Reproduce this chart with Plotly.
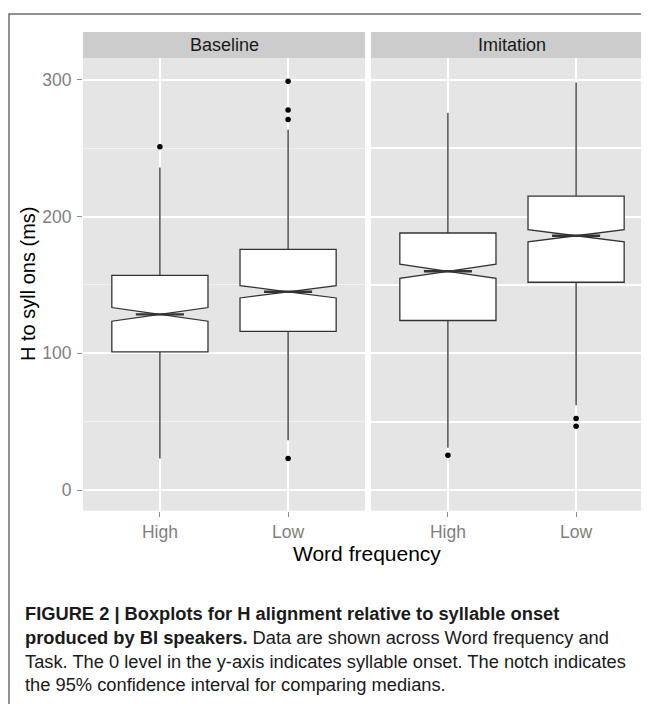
import plotly.graph_objects as go

# the page body has an 8px margin, so the figure is drawn 8px in from the corner
PAGE_OFF = 8
W, H = 649 - PAGE_OFF, 704 - PAGE_OFF

# data (ms), order: High, Low
freq_labels = ["High", "Low"]
freq_pos = [1, 2]

base_q1 = [101, 116]
base_median = [128.5, 145]
base_q3 = [157, 176]
base_lower = [23, 36.5]
base_upper = [236, 263.5]
base_notch = [5, 4.5]
base_out_x = ["High", "Low", "Low", "Low", "Low"]
base_out_y = [251, 299, 278, 271, 23]

imit_q1 = [124, 152]
imit_median = [160, 186]
imit_q3 = [188, 215]
imit_lower = [31, 62]
imit_upper = [276, 298]
imit_notch = [5.2, 4.5]
imit_out_x = ["High", "Low", "Low"]
imit_out_y = [25.5, 52.3, 46.7]

panels = [
    ("Baseline", "x", "y", base_q1, base_median, base_q3, base_lower, base_upper,
     base_notch, base_out_x, base_out_y),
    ("Imitation", "x2", "y2", imit_q1, imit_median, imit_q3, imit_lower, imit_upper,
     imit_notch, imit_out_x, imit_out_y),
]

LINE = "#333333"
BOX_W = 0.75
NOTCH_W = 0.5
pos_of = dict(zip(freq_labels, freq_pos))

fig = go.Figure()
for name, xa, ya, q1, med, q3, lo, hi, nspan, ox, oy in panels:
    fig.add_trace(go.Box(
        x=freq_pos, q1=q1, median=med, q3=q3, lowerfence=lo, upperfence=hi,
        notchspan=nspan, notched=True, notchwidth=NOTCH_W, width=BOX_W,
        whiskerwidth=0, fillcolor="white", boxpoints=False,
        line=dict(color=LINE, width=1.3), xaxis=xa, yaxis=ya,
        showlegend=False, hoverinfo="skip"))
    # thicker median bar like ggplot
    mx, my = [], []
    half = BOX_W * (1 - NOTCH_W) / 2
    for p, m in zip(freq_pos, med):
        mx += [p - half, p + half, None]
        my += [m, m, None]
    fig.add_trace(go.Scatter(x=mx, y=my, mode="lines", line=dict(color=LINE, width=2.4),
                             xaxis=xa, yaxis=ya, showlegend=False, hoverinfo="skip"))
    fig.add_trace(go.Scatter(x=[pos_of[v] for v in ox], y=oy, mode="markers",
                             marker=dict(color="black", size=5.5),
                             xaxis=xa, yaxis=ya, showlegend=False))


# helpers take page pixels and return paper fractions
def px_x(v):
    return (v - PAGE_OFF) / W


def px_y(v):
    return 1 - (v - PAGE_OFF) / H


FONT = "Liberation Sans, Arial, sans-serif"
x_left, x_mid_r, x_mid_l = 83, 365, 371
unit = (x_mid_r - x_left) / 2.2
y_top, y_bot = 58, 510.7
x_right = x_mid_l + 2.2 * unit

axis_common = dict(
    tickvals=freq_pos, ticktext=freq_labels, showgrid=True, gridcolor="white",
    gridwidth=1.5, zeroline=False, showline=False, ticks="outside", ticklen=5,
    tickcolor="#8c8c8c", tickfont=dict(family=FONT, size=17.5, color="#7f7f7f"),
)
fig.update_layout(
    width=W, height=H, margin=dict(l=0, r=0, t=0, b=0),
    paper_bgcolor="white", plot_bgcolor="#E5E5E5",
    xaxis=dict(domain=[px_x(x_left), px_x(x_mid_r)], range=[0.4, 2.6], **axis_common),
    xaxis2=dict(domain=[px_x(x_mid_l), 1], range=[0.4, 0.4 + (649 - x_mid_l) / unit],
                anchor="y2", **axis_common),
    yaxis=dict(domain=[px_y(y_bot), px_y(y_top)], range=[-15.1, 316],
               tickvals=[0, 100, 200, 300], showgrid=True, gridcolor="white", gridwidth=1.5,
               minor=dict(dtick=50, showgrid=True, gridcolor="#F2F2F2", gridwidth=1),
               zeroline=False, showline=False, ticks="outside", ticklen=5,
               tickcolor="#8c8c8c", ticklabelstandoff=2,
               tickfont=dict(family=FONT, size=17.5, color="#7f7f7f")),
    yaxis2=dict(domain=[px_y(y_bot), px_y(y_top)], matches="y", anchor="x2",
                showticklabels=False, ticks="", showgrid=True, gridcolor="white",
                gridwidth=1.5,
                minor=dict(dtick=50, showgrid=True, gridcolor="#F2F2F2", gridwidth=1),
                zeroline=False, showline=False),
    showlegend=False,
)

# facet strips
strips = [("Baseline", x_left, x_mid_r), ("Imitation", x_mid_l, x_right)]
for label, a, b in strips:
    fig.add_shape(type="rect", xref="paper", yref="paper", x0=px_x(a), x1=px_x(b),
                  y0=px_y(y_top), y1=px_y(32), fillcolor="#CCCCCC", line_width=0, layer="below")
    fig.add_annotation(text=label, xref="paper", yref="paper", x=px_x((a + b) / 2), y=px_y(45),
                       xanchor="center", yanchor="middle", showarrow=False,
                       font=dict(family=FONT, size=18, color="#1a1a1a"))

# figure frame (right and bottom sides run off the page)
fig.add_shape(type="rect", xref="paper", yref="paper", x0=px_x(9), x1=1.05,
              y0=-0.05, y1=px_y(14), line=dict(color="#6e6e6e", width=1.5))

fig.add_annotation(text="H to syll ons (ms)", xref="paper", yref="paper", x=px_x(28),
                   y=px_y(284), xanchor="center", yanchor="middle", textangle=-90,
                   showarrow=False, font=dict(family=FONT, size=20, color="black"))
fig.add_annotation(text="Word frequency", xref="paper", yref="paper", x=px_x(367),
                   y=px_y(553), xanchor="center", yanchor="middle", showarrow=False,
                   font=dict(family=FONT, size=21, color="black"))

caption = ("<b>FIGURE 2 | Boxplots for H alignment relative to syllable onset</b><br>"
           "<b>produced by BI speakers.</b> Data are shown across Word frequency and<br>"
           "Task. The 0 level in the y-axis indicates syllable onset. The notch indicates<br>"
           "the 95% confidence interval for comparing medians.")
fig.add_annotation(text=caption, xref="paper", yref="paper", x=px_x(23), y=px_y(601),
                   xanchor="left", yanchor="top", align="left", showarrow=False,
                   font=dict(family=FONT, size=18.3, color="#1a1a1a"))

fig.write_html("out.html")
